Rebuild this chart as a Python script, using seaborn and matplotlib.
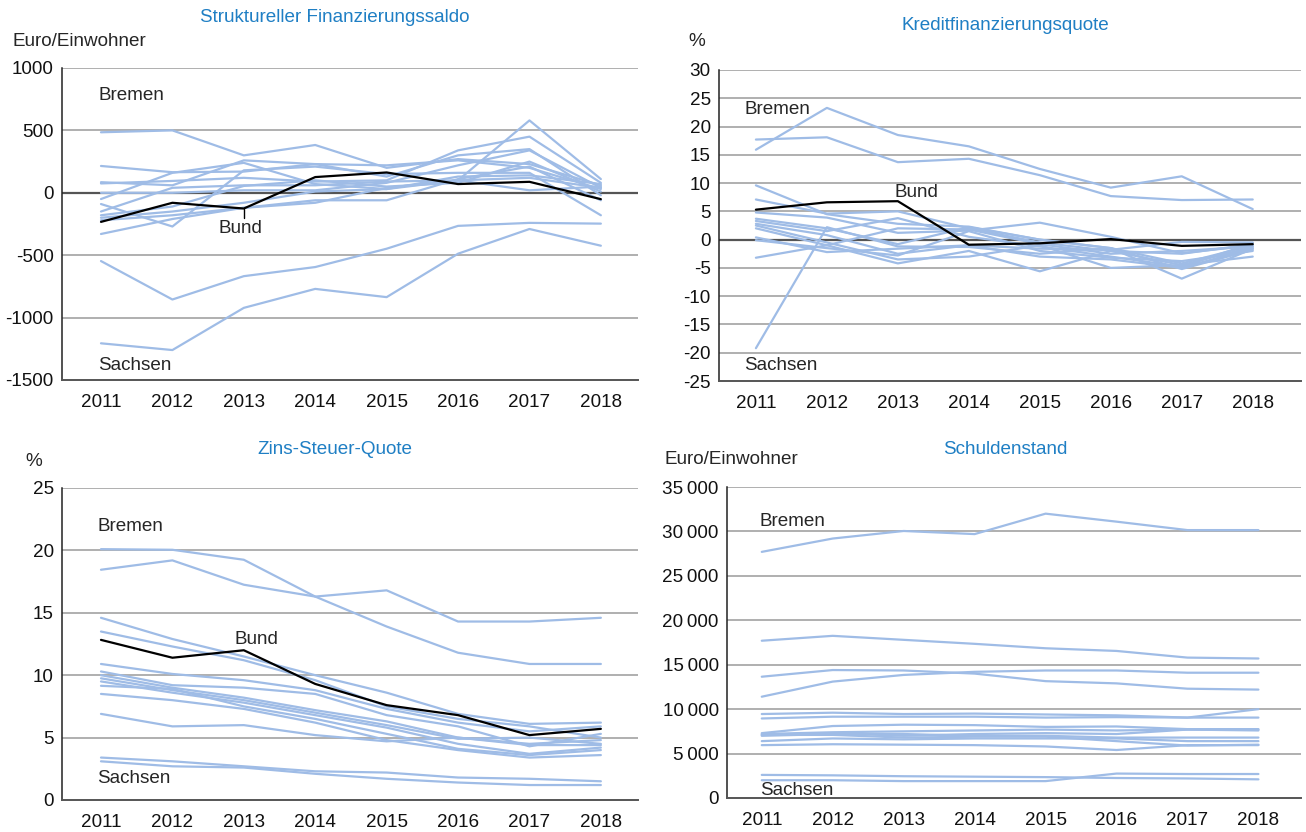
import numpy as np
import pandas as pd
import matplotlib
matplotlib.use('Agg')
import matplotlib.pyplot as plt
import seaborn as sns

years = [2011, 2012, 2013, 2014, 2015, 2016, 2017, 2018]

# Struktureller Finanzierungssaldo (Euro/Einwohner)
saldo_laender = [
    [485, 500, 300, 383, 200, 270, 230, 60],
    [215, 165, 170, 230, 220, 260, 200, 30],
    [85, 60, 260, 230, 130, 300, 350, -20],
    [75, 95, 120, 90, 100, 340, 450, 80],
    [-50, 160, 240, 70, 30, 100, 580, 110],
    [-90, -270, 180, 210, 150, 160, 160, -180],
    [-150, 40, 60, 60, 90, 100, 20, 50],
    [-180, -110, 55, 100, 50, 80, 250, 10],
    [-200, -150, -80, 10, 30, 130, 140, 70],
    [-220, -180, -120, -80, 40, 100, 120, 40],
    [-330, -210, -120, -60, -60, 110, 210, -60],
    [0, 0, 20, 20, 80, 220, 340, 40],
    [-547, -855, -668, -595, -448, -265, -241, -247],
    [-1206, -1260, -922, -770, -836, -488, -290, -424],
]
saldo_bund = [-233, -80, -126, 126, 163, 70, 88, -51]

# Kreditfinanzierungsquote (%)
kredit_laender = [
    [9.6, 4.5, 2.8, 2.3, 0.0, -1.5, -4.2, -1.0],
    [7.1, 4.6, 5.0, 2.0, -0.5, -2.0, -4.5, -1.3],
    [4.8, 3.9, 1.2, 1.6, 3.0, 0.5, -2.4, -1.0],
    [3.7, 2.0, -0.8, 2.2, 0.0, -1.5, -6.9, -1.6],
    [3.3, 1.5, 3.8, 0.5, -1.2, -3.0, -4.8, -0.6],
    [2.8, 0.8, -2.5, -1.0, -3.0, -3.5, -5.0, -1.5],
    [2.5, -0.5, -3.5, -3.0, -1.0, -5.0, -4.5, -3.0],
    [2.0, -1.0, -4.2, -2.0, -5.6, -2.0, -2.5, -0.8],
    [0.4, -2.2, -1.6, -1.0, -1.6, -1.8, -0.4, -0.5],
    [-0.1, -1.5, -2.8, 1.5, -2.0, -3.2, -3.8, -2.0],
    [-3.2, -1.0, 2.0, 1.8, -0.8, -2.5, -2.0, -1.2],
    [-19.2, 2.2, -1.2, -1.3, -2.5, -1.5, -5.2, -1.8],
    [17.7, 18.1, 13.7, 14.3, 11.4, 7.7, 7.0, 7.1],
    [15.9, 23.3, 18.5, 16.5, 12.5, 9.2, 11.2, 5.4],
]
kredit_bund = [5.3, 6.6, 6.8, -0.9, -0.65, 0.1, -1.1, -0.8]

# Zins-Steuer-Quote (%)
zins_laender = [
    [20.1, 20.05, 19.25, 16.3, 13.9, 11.8, 10.9, 10.9],
    [18.45, 19.2, 17.25, 16.3, 16.8, 14.3, 14.3, 14.6],
    [14.6, 12.9, 11.5, 10.0, 8.6, 6.9, 6.1, 6.2],
    [13.5, 12.3, 11.2, 9.6, 7.5, 6.5, 5.9, 5.0],
    [10.9, 10.1, 9.6, 8.8, 7.3, 6.2, 5.5, 5.9],
    [10.3, 9.2, 9.0, 8.5, 6.8, 5.9, 4.3, 5.3],
    [10.0, 9.0, 8.2, 7.2, 6.3, 5.0, 4.5, 4.8],
    [9.75, 8.8, 8.0, 7.0, 6.0, 4.9, 5.0, 4.5],
    [9.5, 8.6, 7.8, 6.8, 5.8, 4.5, 3.7, 4.2],
    [9.15, 8.9, 7.5, 6.5, 5.3, 4.1, 3.6, 4.0],
    [8.5, 8.0, 7.3, 6.2, 4.8, 4.0, 3.4, 3.6],
    [6.9, 5.9, 6.0, 5.2, 4.7, 5.0, 4.4, 4.4],
    [3.4, 3.1, 2.7, 2.3, 2.2, 1.8, 1.7, 1.5],
    [3.1, 2.7, 2.6, 2.1, 1.7, 1.4, 1.2, 1.2],
]
zins_bund = [12.83, 11.4, 12.0, 9.3, 7.6, 6.8, 5.2, 5.7]

# Schuldenstand (Euro/Einwohner)
schulden_laender = [
    [27700, 29200, 30050, 29700, 32000, 31100, 30150, 30150],
    [17700, 18250, 17800, 17350, 16850, 16550, 15800, 15700],
    [13650, 14400, 14350, 14000, 13150, 12900, 12300, 12200],
    [11400, 13100, 13850, 14200, 14350, 14350, 14100, 14100],
    [9450, 9600, 9450, 9500, 9400, 9300, 9050, 10000],
    [8950, 9150, 9150, 9150, 9050, 9100, 9050, 9050],
    [7300, 8100, 8250, 8200, 8000, 8050, 7750, 7750],
    [7200, 7400, 7500, 7600, 7700, 7600, 7700, 7700],
    [7100, 7300, 7000, 7200, 7300, 7200, 7700, 7600],
    [7000, 7200, 7200, 7000, 7000, 6800, 6800, 6800],
    [7100, 7100, 6800, 6900, 6900, 6400, 5900, 6000],
    [6400, 6700, 6600, 6700, 6700, 6700, 6400, 6400],
    [5950, 6050, 6000, 5950, 5800, 5400, 5950, 5950],
    [2600, 2550, 2450, 2400, 2350, 2250, 2200, 2100],
    [2000, 2000, 1900, 1900, 1900, 2750, 2700, 2700],
]

titles = ['Struktureller Finanzierungssaldo', 'Kreditfinanzierungsquote',
          'Zins-Steuer-Quote', 'Schuldenstand']
units = ['Euro/Einwohner', '%', '%', 'Euro/Einwohner']
yticks_tl = [-1500, -1000, -500, 0, 500, 1000]
yticks_tr = [-25, -20, -15, -10, -5, 0, 5, 10, 15, 20, 25, 30]
yticks_bl = [0, 5, 10, 15, 20, 25]
yticks_br = [0, 5000, 10000, 15000, 20000, 25000, 30000, 35000]

LAND_COLOR = '#9fbce6'
TITLE_COLOR = '#1f7fc4'
GRID_COLOR = '#9a9a9a'
FS = 13.6

sns.set_style('white')
plt.rcParams['font.family'] = ['Liberation Sans', 'DejaVu Sans']


def to_long(series_list):
    rows = []
    for i, vals in enumerate(series_list):
        for y, v in zip(years, vals):
            rows.append({'Jahr': y, 'Wert': v, 'Land': i})
    return pd.DataFrame(rows)


def draw_panel(ax, laender, bund, yticks, zero_line, fmt=str):
    df = to_long(laender)
    sns.lineplot(data=df, x='Jahr', y='Wert', units='Land', estimator=None,
                 color=LAND_COLOR, lw=1.6, ax=ax, zorder=3)
    if bund is not None:
        sns.lineplot(x=years, y=bund, color='black', lw=1.6, ax=ax, zorder=4)
    ax.set_ylim(yticks[0], yticks[-1])
    ax.set_yticks(yticks)
    ax.set_yticklabels([fmt(t) for t in yticks])
    ax.set_xticks(years)
    ax.set_xticklabels([str(y) for y in years])
    ax.set_xlabel('')
    ax.set_ylabel('')
    for t in yticks[1:]:
        if t == 0 and zero_line:
            continue
        ax.axhline(t, color=GRID_COLOR, lw=1.1, zorder=1)
    if zero_line:
        ax.axhline(0, color='#555555', lw=1.6, zorder=2)
    for loc in ['top', 'right']:
        ax.spines[loc].set_visible(False)
    ax.spines['left'].set_color('#222222')
    ax.spines['left'].set_linewidth(1.1)
    ax.spines['bottom'].set_color('#555555')
    ax.spines['bottom'].set_linewidth(1.4)
    ax.tick_params(axis='both', length=0, labelsize=FS, colors='#111111')
    ax.tick_params(axis='y', pad=6)
    ax.tick_params(axis='x', pad=10)


def thousands(v):
    return f'{v:,}'.replace(',', '\u2009')


fig = plt.figure(figsize=(13.06, 8.32), dpi=100)

# top-left
ax1 = fig.add_axes([62/1306, 1-380/832, 576/1306, 312/832])
draw_panel(ax1, saldo_laender, saldo_bund, yticks_tl, True)
ax1.set_xlim(2011-0.546, 2018+0.52)
ax1.text(2011-0.04, 776, 'Bremen', fontsize=FS, va='center', ha='left')
ax1.text(2011-0.04, -1380, 'Sachsen', fontsize=FS, va='center', ha='left')
ax1.text(2013-0.36, -290, 'Bund', fontsize=FS, va='center', ha='left')
ax1.plot([2013, 2013], [-126, -205], color='black', lw=1)

# top-right
ax2 = fig.add_axes([719/1306, 1-381/832, 582/1306, 311/832])
draw_panel(ax2, kredit_laender, kredit_bund, yticks_tr, True)
ax2.set_xlim(2011-0.52, 2018+0.68)
ax2.text(2011-0.16, 23.1, 'Bremen', fontsize=FS, va='center', ha='left')
ax2.text(2011-0.16, -22.2, 'Sachsen', fontsize=FS, va='center', ha='left')
ax2.text(2013-0.05, 8.4, 'Bund', fontsize=FS, va='center', ha='left')

# bottom-left
ax3 = fig.add_axes([62/1306, 1-800/832, 576/1306, 312/832])
draw_panel(ax3, zins_laender, zins_bund, yticks_bl, False)
ax3.set_xlim(2011-0.546, 2018+0.52)
ax3.text(2011-0.05, 21.9, 'Bremen', fontsize=FS, va='center', ha='left')
ax3.text(2011-0.05, 1.7, 'Sachsen', fontsize=FS, va='center', ha='left')
ax3.text(2013-0.13, 12.9, 'Bund', fontsize=FS, va='center', ha='left')

# bottom-right
ax4 = fig.add_axes([727/1306, 1-798/832, 574/1306, 311/832])
draw_panel(ax4, schulden_laender, None, yticks_br, False, fmt=thousands)
ax4.set_xlim(2011-0.49, 2018+0.6)
ax4.text(2011-0.03, 31170, 'Bremen', fontsize=FS, va='center', ha='left')
ax4.text(2011-0.03, 900, 'Sachsen', fontsize=FS, va='center', ha='left')

# titles and unit labels
fig.text(335/1306, 1-17/832, titles[0], color=TITLE_COLOR, fontsize=FS, ha='center', va='center')
fig.text(1005/1306, 1-25/832, titles[1], color=TITLE_COLOR, fontsize=FS, ha='center', va='center')
fig.text(335/1306, 1-450/832, titles[2], color=TITLE_COLOR, fontsize=FS, ha='center', va='center')
fig.text(1005/1306, 1-449/832, titles[3], color=TITLE_COLOR, fontsize=FS, ha='center', va='center')

fig.text(13/1306, 1-42/832, units[0], fontsize=FS, ha='left', va='center')
fig.text(697/1306, 1-42/832, units[1], fontsize=FS, ha='center', va='center')
fig.text(34/1306, 1-461/832, units[2], fontsize=FS, ha='center', va='center')
fig.text(664/1306, 1-460/832, units[3], fontsize=FS, ha='left', va='center')

fig.savefig('out.png', dpi=100, facecolor='white')
